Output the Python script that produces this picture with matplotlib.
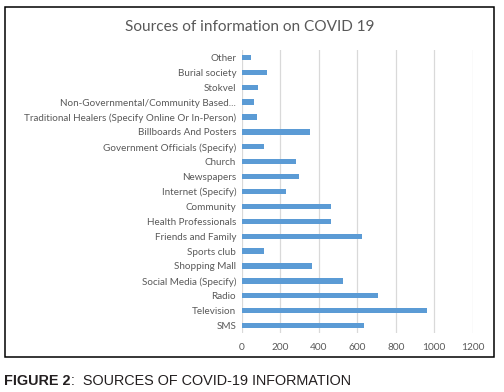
import matplotlib
matplotlib.use("Agg")
import matplotlib.pyplot as plt
from matplotlib.patches import Rectangle

categories = ["SMS", "Television", "Radio", "Social Media (Specify)", "Shopping Mall",
              "Sports club", "Friends and Family", "Health Professionals", "Community",
              "Internet (Specify)", "Newspapers", "Church", "Government Officials (Specify)",
              "Billboards And Posters", "Traditional Healers (Specify Online Or In-Person)",
              "Non-Governmental/Community Based...", "Stokvel", "Burial society", "Other"]
values = [634, 961, 710, 528, 364, 114, 625, 466, 462, 229, 296, 284, 114, 355, 81, 66, 85, 133, 50]
xticks = [0, 200, 400, 600, 800, 1000, 1200]

title = "Sources of information on COVID 19"
text_color = "#595959"
bar_color = "#5B9BD5"

fig = plt.figure(figsize=(5.04, 3.92), dpi=100)
ax = fig.add_axes([241.7/504, 1-333/392, (472.7-241.7)/504, (333-50)/392])

ypos = list(range(len(categories)))
ax.barh(ypos, values, height=0.36, color=bar_color, zorder=3)
ax.set_yticks(ypos)
ax.set_yticklabels(categories, family="Lato", fontsize=7.1, color=text_color)
ax.set_xticks(xticks)
ax.set_xticklabels([str(t) for t in xticks], family="Lato", fontsize=7.3, color=text_color)
ax.set_xlim(0, 1200)
ax.set_ylim(-0.5, len(categories) - 0.5)
ax.tick_params(axis="both", length=0, pad=4)
ax.tick_params(axis="x", pad=7)
ax.grid(axis="x", color="#D9D9D9", linewidth=0.9, zorder=0)
for s in ax.spines.values():
    s.set_visible(False)

fig.text(250/504, 1-27/392, title, family="Lato", fontsize=11.1,
         color=text_color, ha="center", va="center")

fig.patches.append(Rectangle((4.5/504, 1-357/392), (494-4.5)/504, (357-7)/392,
                             transform=fig.transFigure, fill=False, edgecolor="black",
                             linewidth=1.1))

t1 = fig.text(4.5/504, 1-385/392, "FIGURE 2", family="Liberation Sans", fontweight="bold",
              fontsize=10.4, color="#231F20", ha="left", va="baseline")
fig.canvas.draw()
bb = t1.get_window_extent()
fig.text(bb.x1 / fig.bbox.width, 1-385/392, ":  SOURCES OF COVID-19 INFORMATION",
         family="Liberation Sans", fontsize=10.4, color="#231F20", ha="left", va="baseline")

fig.savefig("out.png", dpi=100)
